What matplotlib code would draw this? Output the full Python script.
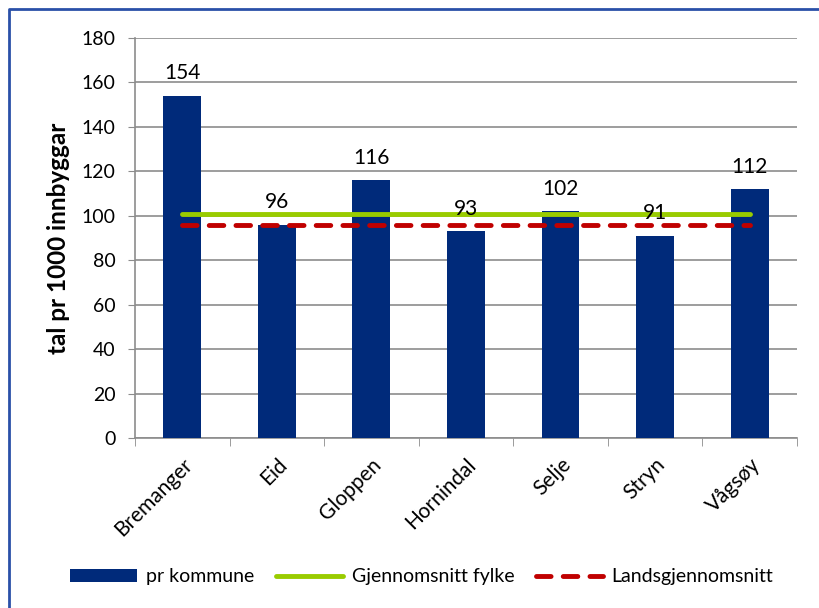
import matplotlib.pyplot as plt
from matplotlib.lines import Line2D

plt.rcParams['font.family'] = ['Lato', 'DejaVu Sans']

kommunar = ['Bremanger', 'Eid', 'Gloppen', 'Hornindal', 'Selje', 'Stryn', 'Vågsøy']
pr_kommune = [154, 96, 116, 93, 102, 91, 112]
snitt_fylke = 101
snitt_land = 96

bar_col = '#002a7a'
green = '#99cc00'
red = '#c00000'
grid_col = '#8c8c8c'

fig = plt.figure(figsize=(8.19, 6.08), dpi=100)
ax = fig.add_axes([0.1648, 0.2796, 0.8083, 0.658])

x = list(range(len(kommunar)))
bars = ax.bar(x, pr_kommune, width=0.4, color=bar_col, zorder=3, label='pr kommune')
l1, = ax.plot([x[0], x[-1]], [snitt_fylke] * 2, color=green, lw=3.5, zorder=4,
              solid_capstyle='round', label='Gjennomsnitt fylke')
l2, = ax.plot([x[0], x[-1]], [snitt_land] * 2, color=red, lw=3.5, ls=(0, (3, 2.5)), zorder=4,
              dash_capstyle='round', label='Landsgjennomsnitt')

for xi, v in zip(x, pr_kommune):
    ax.annotate(str(v), (xi, v), xytext=(0, 9), textcoords='offset points',
                ha='center', va='bottom', fontsize=15, zorder=5)

ax.set_xlim(-0.5, len(kommunar) - 0.5)
ax.set_ylim(0, 180)
ax.set_yticks(range(0, 181, 20))
ax.yaxis.grid(True, color=grid_col, lw=1.2, zorder=0)
ax.tick_params(axis='y', labelsize=14, length=5, color=grid_col, pad=9)

ax.set_xticks(x)
ax.set_xticklabels(kommunar, rotation=45, ha='right', rotation_mode='anchor', fontsize=15)
ax.tick_params(axis='x', length=0, pad=12)
ax.set_xticks([i - 0.5 for i in range(len(kommunar) + 1)], minor=True)
ax.tick_params(axis='x', which='minor', length=6, color=grid_col)

for s in ['top', 'right']:
    ax.spines[s].set_visible(False)
for s in ['left', 'bottom']:
    ax.spines[s].set_color(grid_col)
    ax.spines[s].set_linewidth(1.2)

ax.set_ylabel('tal pr 1000 innbyggar', fontsize=17.5, fontweight='bold', labelpad=8)

fig.legend(handles=[bars, l1, l2], loc='center', bbox_to_anchor=(0.515, 0.051), ncol=3,
           frameon=False, fontsize=14, handlelength=3.45, columnspacing=1.1,
           handletextpad=0.45)

# frame line along the left and top edge
fig.add_artist(Line2D([0.0105, 0.0105, 1.0], [0.0, 0.985, 0.985], transform=fig.transFigure,
                      color='#2a50a8', lw=2))

fig.savefig('out.png', dpi=100)
